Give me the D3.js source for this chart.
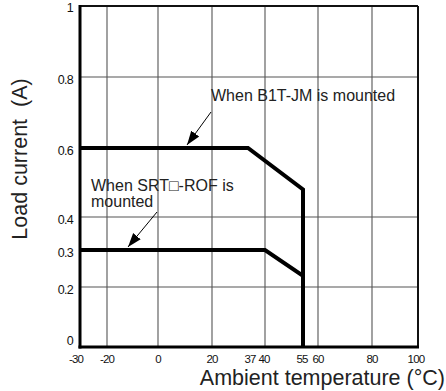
<!DOCTYPE html>
<html><head><meta charset="utf-8">
<script src="https://cdn.jsdelivr.net/npm/d3@7/dist/d3.min.js"></script>
<style>body{margin:0;background:#fff;} svg{display:block;}</style>
</head><body>
<svg id="c" width="446" height="391"></svg>
<script>
// ---- data ----
const xTicks = [-30, -20, 0, 20, 37, 40, 55, 60, 80, 100];
const xGrid = [-20, 0, 20, 40, 60, 80];
const yTicks = [0, 0.2, 0.3, 0.4, 0.6, 0.8, 1];
const yGrid = [0.2, 0.4, 0.8];
const b1tTemp = [-30, 37, 55, 55];
const b1tCurrent = [0.6, 0.6, 0.48, 0];
const srtTemp = [-30, 40, 55, 55];
const srtCurrent = [0.3, 0.3, 0.23, 0];
const labelB1T = ["When B1T-JM is mounted"];
const labelSRT = ["When SRT\u25A1-ROF is", "mounted"];
const xTitle = "Ambient temperature (\u00B0C)";
const yTitle = "Load current\u00A0\u00A0(A)";

// ---- scales (hand-drawn original axis, piecewise linear) ----
const x = d3.scaleLinear()
  .domain([-30, -20, 0, 20, 37, 40, 55, 60, 80, 100])
  .range([80, 107, 158, 212, 248, 265, 303, 318, 372, 418]);
const y = d3.scaleLinear()
  .domain([0, 0.2, 0.3, 0.4, 0.6, 0.8, 1])
  .range([347, 287, 250, 217, 148, 77, 6]);

const svg = d3.select("#c");
const font = "'Liberation Sans', Arial, Helvetica, sans-serif";

svg.append("defs").append("marker")
  .attr("id", "ah").attr("viewBox", "0 0 10 10").attr("refX", 10).attr("refY", 5)
  .attr("markerWidth", 14).attr("markerHeight", 14).attr("markerUnits", "userSpaceOnUse")
  .attr("orient", "auto")
  .append("path").attr("d", "M0,1.5 L10,5 L0,8.5 Z").attr("fill", "#000");

// grid
svg.append("g").selectAll("line").data(xGrid).join("line")
  .attr("x1", d => x(d)).attr("x2", d => x(d))
  .attr("y1", y(1)).attr("y2", y(0))
  .attr("stroke", "#555").attr("stroke-width", 1.1);
svg.append("g").selectAll("line").data(yGrid).join("line")
  .attr("x1", x(-30)).attr("x2", x(100))
  .attr("y1", d => y(d)).attr("y2", d => y(d))
  .attr("stroke", "#555").attr("stroke-width", 1.1);

// frame
svg.append("line").attr("x1", x(-30)).attr("x2", x(100)).attr("y1", y(1)).attr("y2", y(1))
  .attr("stroke", "#111").attr("stroke-width", 2);
svg.append("line").attr("x1", x(100)).attr("x2", x(100)).attr("y1", y(1)).attr("y2", y(0))
  .attr("stroke", "#111").attr("stroke-width", 2);
svg.append("line").attr("x1", x(-30)).attr("x2", x(-30)).attr("y1", y(1) - 1).attr("y2", y(0) + 1.5)
  .attr("stroke", "#000").attr("stroke-width", 3);
svg.append("line").attr("x1", x(-30) - 1.5).attr("x2", x(100) + 1).attr("y1", y(0)).attr("y2", y(0))
  .attr("stroke", "#000").attr("stroke-width", 3);

// curves
const line = d3.line().x(d => x(d[0])).y(d => y(d[1]));
[[srtTemp, srtCurrent], [b1tTemp, b1tCurrent]].forEach(([t, c]) => {
  svg.append("path").datum(d3.zip(t, c)).attr("d", line)
    .attr("fill", "none").attr("stroke", "#000").attr("stroke-width", 4)
    .attr("stroke-linejoin", "miter");
});

// x tick labels
const xOff = {"-30": -4, "37": 2, "40": -1, "55": -1, "100": -2};
svg.append("g").selectAll("text").data(xTicks).join("text")
  .attr("x", d => x(d) + (xOff[d] || 0)).attr("y", 363)
  .attr("text-anchor", "middle").attr("font-family", font).attr("font-size", 11.5)
  .attr("letter-spacing", "-0.8").attr("fill", "#111")
  .text(d => d);

// y tick labels
svg.append("g").selectAll("text").data(yTicks).join("text")
  .attr("x", 73).attr("y", d => d === 0 ? 345 : (d === 1 ? 12 : y(d) + 7))
  .attr("text-anchor", "end").attr("font-family", font).attr("font-size", 12.5)
  .attr("letter-spacing", "-0.7").attr("fill", "#111")
  .text(d => d);

// axis titles
svg.append("text").attr("x", 445).attr("y", 385).attr("text-anchor", "end")
  .attr("font-family", font).attr("font-size", 21.5).attr("fill", "#222").text(xTitle);
svg.append("text").attr("transform", "translate(27,159) rotate(-90)").attr("text-anchor", "middle")
  .attr("font-family", font).attr("font-size", 21.5).attr("fill", "#222").text(yTitle);

// annotations
svg.append("text").attr("x", 211).attr("y", 101).attr("font-family", font)
  .attr("font-size", 16).attr("fill", "#222").text(labelB1T[0]);
svg.append("text").attr("x", 91).attr("y", 191).attr("font-family", font)
  .attr("font-size", 16).attr("fill", "#222")
  .selectAll("tspan").data(labelSRT).join("tspan")
  .attr("x", 91).attr("dy", (d, i) => i === 0 ? 0 : 16).text(d => d);

svg.append("line").attr("x1", 211).attr("y1", 112).attr("x2", 187).attr("y2", 145)
  .attr("stroke", "#000").attr("stroke-width", 1).attr("marker-end", "url(#ah)");
svg.append("line").attr("x1", 157).attr("y1", 212).attr("x2", 128).attr("y2", 247)
  .attr("stroke", "#000").attr("stroke-width", 1).attr("marker-end", "url(#ah)");
</script>
</body></html>
